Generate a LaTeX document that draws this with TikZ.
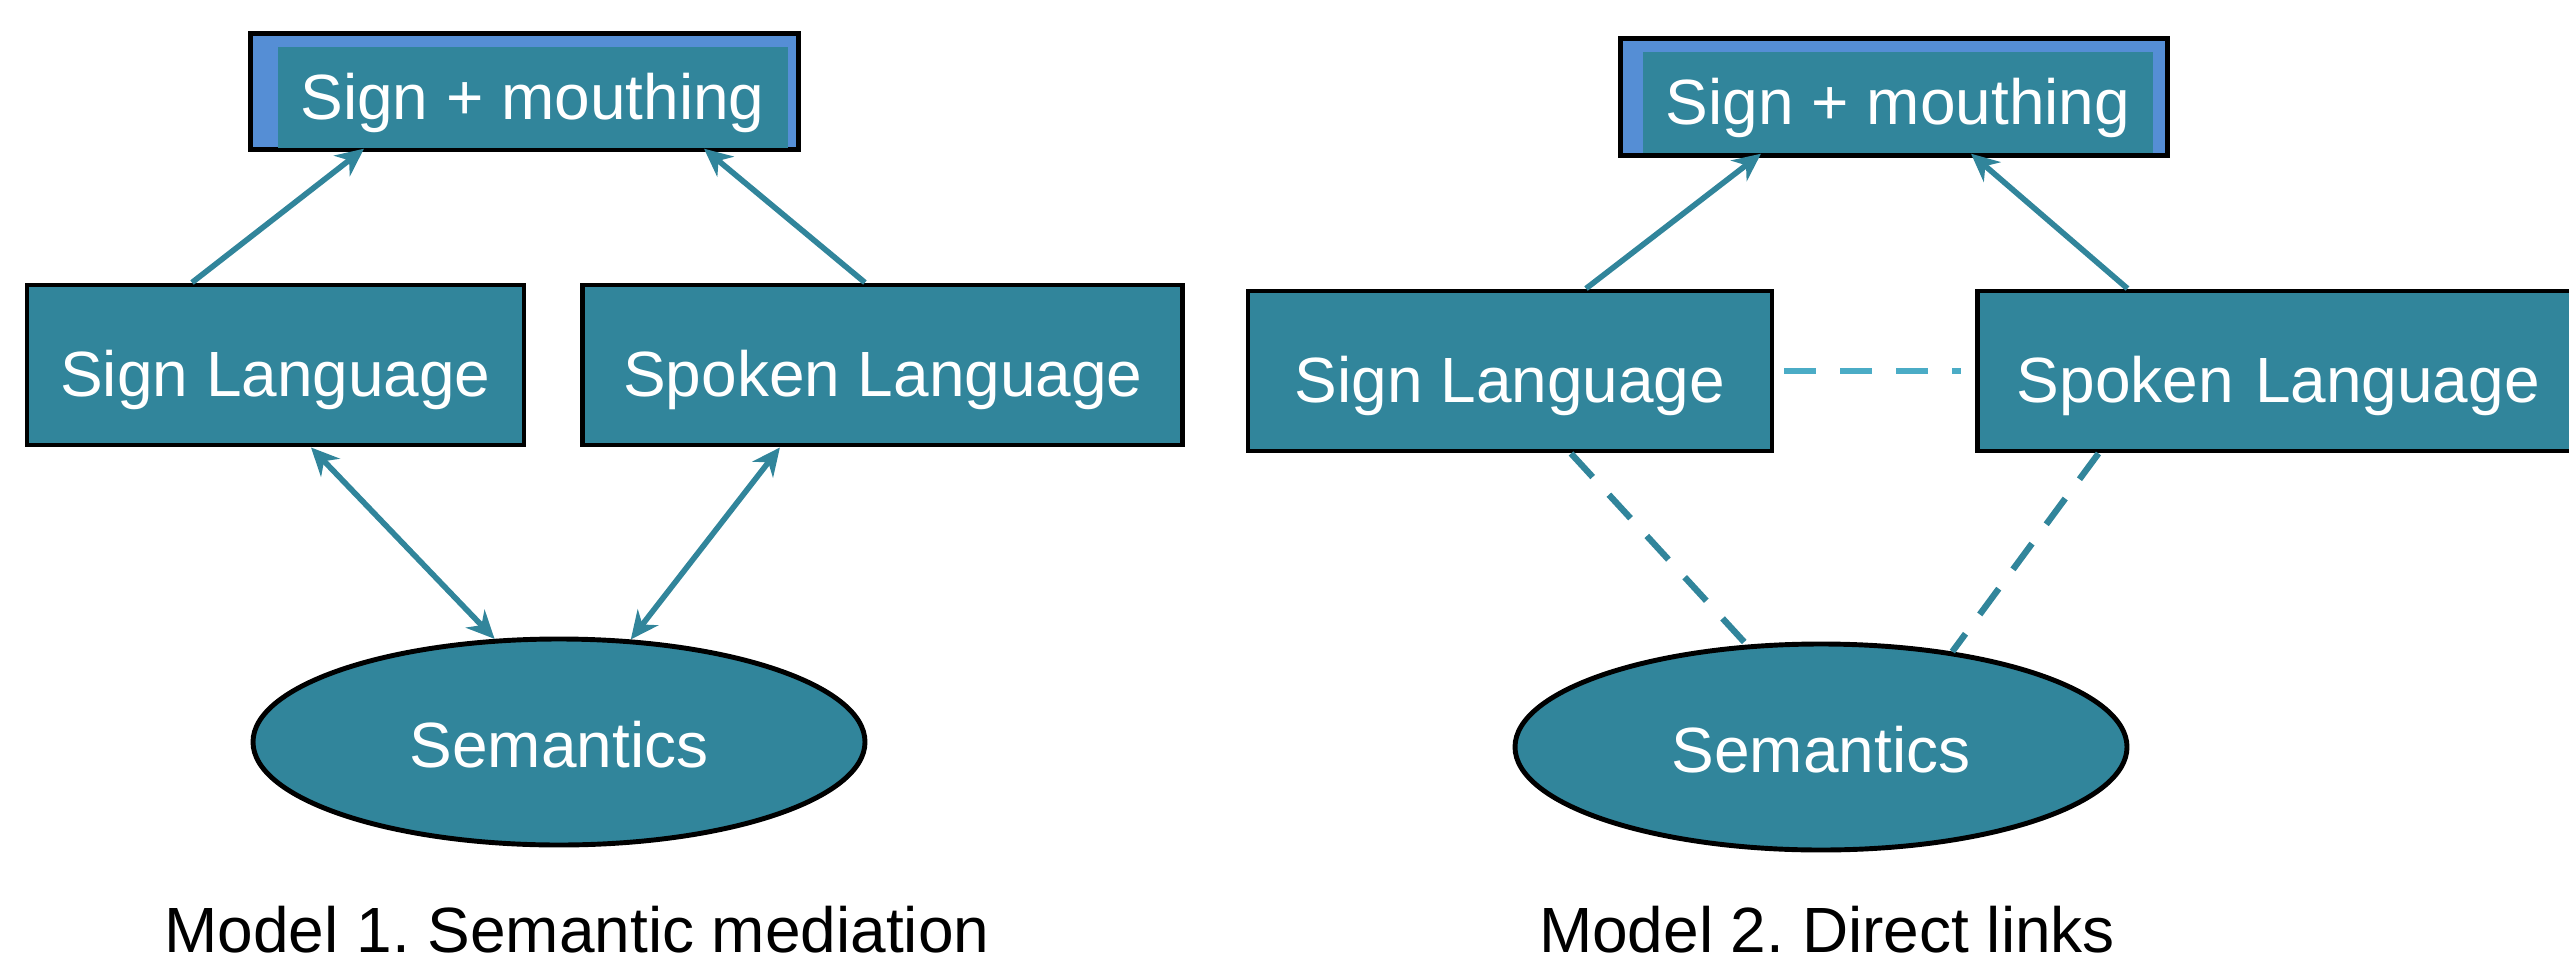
\documentclass[tikz,border=0pt]{standalone}
\usepackage{fontspec}
\setmainfont{Liberation Sans}
\usepackage{xcolor}
\usepackage{tikz}
\usetikzlibrary{arrows.meta,positioning,shapes.geometric,backgrounds}
\definecolor{tealfill}{RGB}{49,133,155}
\definecolor{frameblue}{RGB}{85,142,213}
\definecolor{linkblue}{RGB}{75,172,198}
\frenchspacing

\begin{document}
\begin{tikzpicture}[
    font=\fontsize{18.2pt}{22pt}\selectfont,
    langbox/.style={draw=black, line width=1.4pt, fill=tealfill, rectangle, minimum height=1.6cm, inner sep=0pt, text=white, text height=0.76cm, text depth=0.14cm},
    topbox/.style={fill=tealfill, rectangle, minimum width=5.1cm, minimum height=1.01cm, inner sep=0pt, text=white, text height=0.58cm, text depth=0.14cm},
    mouthframe/.style={draw=black, line width=1.4pt, fill=frameblue},
    sembox/.style={draw=black, line width=1.4pt, fill=tealfill, ellipse, minimum width=6.12cm, minimum height=2.06cm, inner sep=0pt, text=white, text height=0.64cm, text depth=0.14cm},
    arrow/.style={-{Stealth[length=2.8mm, width=2.6mm]}, line width=1.6pt, draw=tealfill},
    biarrow/.style={{Stealth[length=2.8mm, width=2.6mm]}-{Stealth[length=2.8mm, width=2.6mm]}, line width=1.6pt, draw=tealfill},
    link/.style={line width=1.8pt, draw=tealfill, dash pattern=on 0.32cm off 0.24cm},
    modelcap/.style={anchor=base, text=black}
]
\useasboundingbox (0,0) rectangle (25.69,-9.70);

% Model 1
\node[topbox] (mouth1) at (5.325,-0.975) {Sign + mouthing};
\node[langbox, minimum width=4.97cm] (sign1) at (2.755,-3.65) {Sign Language};
\node[langbox, minimum width=6.0cm, right=0.54cm of sign1] (spoken1) {Spoken Language};
\node[sembox] (sem1) at (5.59,-7.42) {Semantics};
\node[modelcap] (cap1) at (5.77,-9.52) {Model 1. Semantic mediation};

% Model 2
\node[topbox] (mouth2) at (18.98,-1.025) {Sign + mouthing};
\node[langbox, minimum width=5.24cm] (sign2) at (15.10,-3.71) {Sign Language};
\node[langbox, right=2.01cm of sign2, text width=5.99cm, align=left, inner xsep=0.39cm] (spoken2) {Spoken Language};
\node[sembox] (sem2) at (18.21,-7.47) {Semantics};
\node[modelcap] (cap2) at (18.27,-9.52) {Model 2. Direct links};

% frames behind the top boxes
\begin{scope}[on background layer]
\draw[mouthframe] ([shift={(-0.26,0.13)}]mouth1.north west) rectangle ([shift={(0.10,-0.01)}]mouth1.south east);
\draw[mouthframe] ([shift={(-0.22,0.13)}]mouth2.north west) rectangle ([shift={(0.14,-0.02)}]mouth2.south east);
\end{scope}

% Arrows
\draw[arrow] ([xshift=-0.835cm]sign1.north) -- ([xshift=-1.685cm]mouth1.south);
\draw[arrow] ([xshift=-0.18cm]spoken1.north) -- ([xshift=1.715cm]mouth1.south);
\draw[biarrow] ([xshift=0.355cm]sign1.south) -- (sem1.122);
\draw[biarrow] ([xshift=-1.03cm]spoken1.south) -- (sem1.55);

\draw[arrow] ([xshift=0.76cm]sign2.north) -- ([xshift=-1.37cm]mouth2.south);
\draw[arrow] ([xshift=1.52cm]spoken2.north west) -- ([xshift=0.73cm]mouth2.south);
\draw[link] ([xshift=0.61cm]sign2.south) -- (sem2.126);
\draw[link] ([xshift=1.23cm]spoken2.south west) -- (sem2.36);
\draw[link, draw=linkblue, shorten <=0.1cm, shorten >=0.14cm] (sign2) -- (spoken2);

\end{tikzpicture}
\end{document}
